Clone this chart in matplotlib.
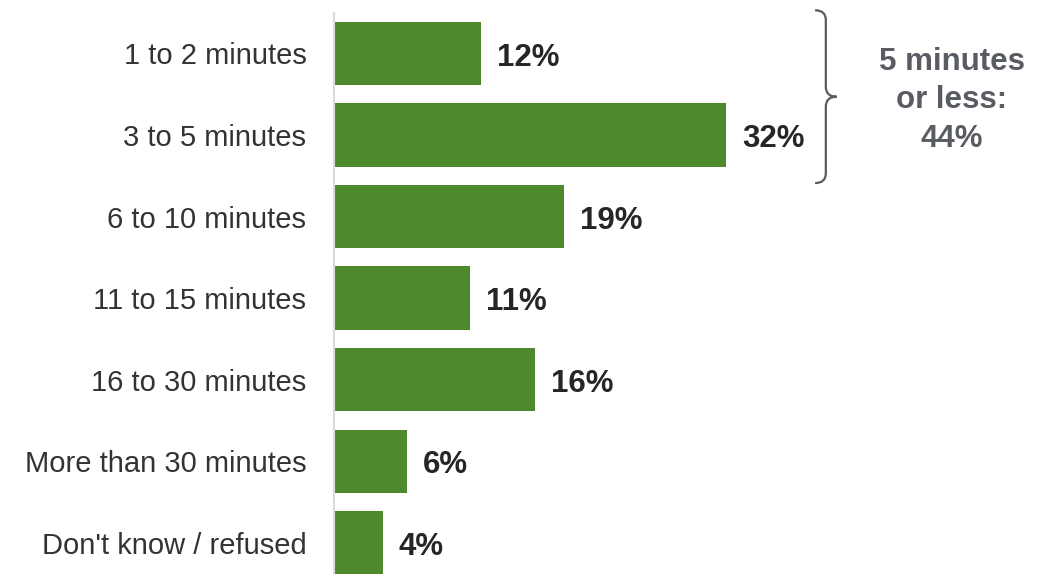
import matplotlib.pyplot as plt
from matplotlib.path import Path
from matplotlib.patches import PathPatch

plt.rcParams["font.family"] = ["Liberation Sans", "DejaVu Sans"]

categories = ["1 to 2 minutes", "3 to 5 minutes", "6 to 10 minutes", "11 to 15 minutes",
              "16 to 30 minutes", "More than 30 minutes", "Don't know / refused"]
shares = [12, 32, 18.8, 11.15, 16.45, 6, 4]
bracket_total = 44

BAR_COLOR = "#4e8a2d"
TEXT_COLOR = "#333333"
VALUE_COLOR = "#262626"
NOTE_COLOR = "#595c63"

fig = plt.figure(figsize=(10.48, 5.74), dpi=100)
ax = fig.add_axes([333.5 / 1048, 0, 1 - 333.5 / 1048, 1])

ypos = list(range(len(categories)))
ax.barh(ypos, shares, height=0.774, color=BAR_COLOR)

for y, v in zip(ypos, shares):
    ax.annotate(f"{v:.0f}%", (v, y), xytext=(11.5, -3), textcoords="offset points",
                ha="left", va="center", fontsize=22.5, fontweight="bold", color=VALUE_COLOR)

ax.set_xlim(0, (1048 - 333.5) / 12.27)
ax.set_ylim(6.385, -0.656)
ax.set_yticks(ypos)
ax.set_yticklabels(categories, fontsize=21, color=TEXT_COLOR)
ax.tick_params(axis="y", length=0, pad=19.5)
ax.set_xticks([])

for s in ["top", "right", "bottom"]:
    ax.spines[s].set_visible(False)
ax.spines["left"].set_color("#d9d9de")
ax.spines["left"].set_linewidth(1.5)
ax.spines["left"].set_bounds(-0.5, 6.385)

# curly brace around the first two rows
x0, x1 = 39.25, 41.0
ytop, ybot = -0.53, 1.59
ymid = (ytop + ybot) / 2
xm = (x0 + x1) / 2
r = 0.12
verts = [
    (x0, ytop), (xm, ytop), (xm, ytop + r),
    (xm, ymid - r),
    (xm, ymid), (x1, ymid), (x1, ymid),
    (xm, ymid), (xm, ymid + r),
    (xm, ybot - r),
    (xm, ybot), (x0, ybot), (x0, ybot),
]
codes = [Path.MOVETO, Path.CURVE3, Path.CURVE3,
         Path.LINETO,
         Path.CURVE3, Path.CURVE3, Path.MOVETO,
         Path.CURVE3, Path.CURVE3,
         Path.LINETO,
         Path.CURVE3, Path.CURVE3, Path.LINETO]
ax.add_patch(PathPatch(Path(verts, codes), facecolor="none", edgecolor=NOTE_COLOR,
                       linewidth=1.6, clip_on=False))

ax.text(50.4, 0.575, f"5 minutes\nor less:\n{bracket_total}%", ha="center", va="center",
        fontsize=22.5, fontweight="bold", color=NOTE_COLOR, linespacing=1.36)

fig.savefig("out.png", dpi=100)
